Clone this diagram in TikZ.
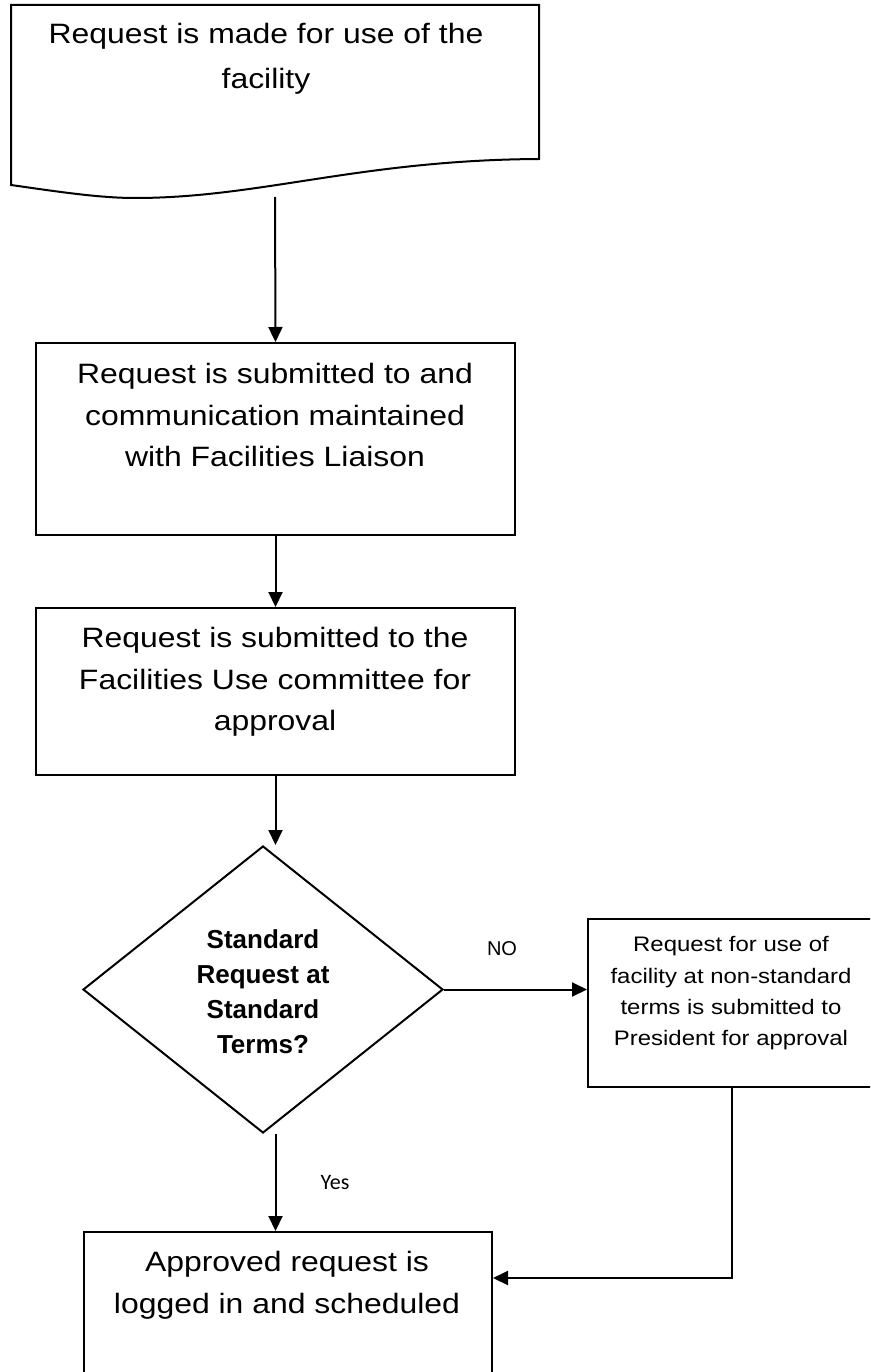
\documentclass[tikz,border=0pt]{standalone}
\usepackage{fontspec}
\setmainfont{Liberation Sans}[FakeStretch=1.14]
\newfontfamily\plainsans{Liberation Sans}
\newfontfamily\labelsans{Carlito}
\usetikzlibrary{arrows.meta,shapes.geometric}

\begin{document}
\begin{tikzpicture}[x=1pt,y=-1pt,
  line width=2pt,
  box/.style={draw, rectangle, inner sep=0pt, anchor=north west},
  decision/.style={draw, diamond, inner sep=0pt},
  bigtext/.style={align=center, inner sep=0pt, anchor=north,
    font=\fontsize{28}{41.5}\selectfont},
  smalltext/.style={align=center, inner sep=0pt, anchor=north,
    font=\fontsize{21}{31.3}\selectfont},
  qtext/.style={align=center, inner sep=0pt, anchor=north,
    font=\plainsans\bfseries\fontsize{26}{35}\selectfont},
  flow/.style={-{Triangle[length=15pt,width=14pt]}, line width=2pt},
]
\useasboundingbox (0,0) rectangle (870,1372);
\fill[white] (0,0) rectangle (870,1372);
\clip (0,0) rectangle (870,1372);

% document (start) shape with wavy bottom edge
\draw (11,5) -- (539,5) -- (539,159)
  .. controls (360,160) and (260,198) .. (135,198)
  .. controls (100,198) and (60,192) .. (11,185) -- cycle;
\node[bigtext, font=\fontsize{28}{45}\selectfont] (t1) at (266,22.6)
  {Request is made for use of the\\facility};
\coordinate (docbot) at (275,197);

% process boxes
\node[box, minimum width=479pt, minimum height=192pt] (b2) at (35,342) {};
\node[bigtext] (t2) at (275,362.6)
  {Request is submitted to and\\communication maintained\\with Facilities Liaison};

\node[box, minimum width=479pt, minimum height=167pt] (b3) at (35,607) {};
\node[bigtext] (t3) at (275,626.6)
  {Request is submitted to the\\Facilities Use committee for\\approval};

% decision
\node[decision, minimum width=360pt, minimum height=287pt] (d) at (263,989.5) {};
\node[qtext] (tq) at (263,929)
  {Standard\\Request at\\Standard\\Terms?};

% non-standard branch
\node[box, minimum width=288pt, minimum height=168pt] (b4) at (587,918) {};
\node[smalltext] (t4) at (731,935.7)
  {Request for use of\\facility at non-standard\\terms is submitted to\\President for approval};

% final box
\node[box, minimum width=408pt, minimum height=200pt] (b5) at (83,1231) {};
\node[bigtext] (t5) at (287,1250.6)
  {Approved request is\\logged in and scheduled};

% branch labels
\node[font=\plainsans\fontsize{20}{24}\selectfont, inner sep=0pt] (no) at (502,949) {NO};
\node[font=\labelsans\fontsize{22}{26}\selectfont, inner sep=0pt] (yes) at (335,1183) {Yes};

% connectors
\coordinate (bend) at (731,1278);
\draw[flow] (docbot) -- (b2.north);
\draw[flow] (b2.south) -- (b3.north);
\draw[flow] (b3.south) -- (b3.south |- d.north);
\draw[flow] (d.east) -- (b4.west |- d.east);
\draw[flow] (b3.south |- d.south) -- (b3.south |- b5.north);
\draw[flow] (b4.south) |- (b5.east |- bend);
\end{tikzpicture}
\end{document}
